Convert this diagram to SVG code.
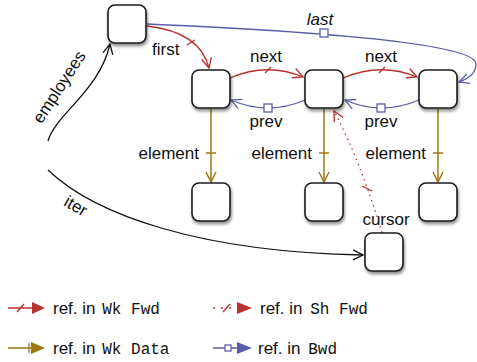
<svg xmlns="http://www.w3.org/2000/svg" width="477" height="362" viewBox="0 0 477 362">
<style>
.box{fill:#fff;stroke:#1a1a1a;stroke-width:1.6;filter:url(#sh)}
.t{font-family:"Liberation Sans",Arial,sans-serif;font-size:17px;fill:#111}
.m{font-family:"Liberation Mono","Courier New",monospace;font-size:16px}
.red{fill:none;stroke:#b8312f;stroke-width:1.3}
.blue{fill:none;stroke:#5a5ea8;stroke-width:1.3}
.gold{fill:none;stroke:#9c7812;stroke-width:1.5}
.blk{fill:none;stroke:#111;stroke-width:1.3}
</style>
<defs>
<filter id="sh" x="-30%" y="-30%" width="170%" height="170%">
<feDropShadow dx="1" dy="2.5" stdDeviation="1.5" flood-color="#000" flood-opacity="0.45"/>
</filter>
<marker id="ar" viewBox="-1 -6 12 12" markerWidth="12" markerHeight="12" refX="10" refY="0" orient="auto" markerUnits="userSpaceOnUse"><path d="M0,-5 L10,0 L0,5" fill="none" stroke="#b8312f" stroke-width="1.3"/></marker>
<marker id="ab" viewBox="-1 -6 12 12" markerWidth="12" markerHeight="12" refX="10" refY="0" orient="auto" markerUnits="userSpaceOnUse"><path d="M0,-5 L10,0 L0,5" fill="none" stroke="#5a5ea8" stroke-width="1.3"/></marker>
<marker id="ag" viewBox="-1 -6 12 12" markerWidth="12" markerHeight="12" refX="10" refY="0" orient="auto" markerUnits="userSpaceOnUse"><path d="M0,-5 L10,0 L0,5" fill="none" stroke="#9c7812" stroke-width="1.5"/></marker>
<marker id="ak" viewBox="-1 -6 12 12" markerWidth="12" markerHeight="12" refX="10" refY="0" orient="auto" markerUnits="userSpaceOnUse"><path d="M0,-5 L10,0 L0,5" fill="none" stroke="#111" stroke-width="1.3"/></marker>
</defs>

<g id="connectors">
  <!-- employees -->
  <path class="blk" d="M48,141 C55,115 100,90 110,44" marker-end="url(#ak)"/>
  <text class="t" transform="translate(64,90) rotate(-57)" text-anchor="middle">employees</text>
  <!-- iter -->
  <path class="blk" d="M48,170 C95,215 200,252 363,255" marker-end="url(#ak)"/>
  <text class="t" transform="translate(73,211) rotate(30)" text-anchor="middle">iter</text>
  <!-- first -->
  <path class="red" d="M147,26 Q200,32 209,68" marker-end="url(#ar)"/>
  <line class="red" x1="187" y1="45" x2="195" y2="40"/>
  <text class="t" x="152" y="55">first</text>
  <!-- last -->
  <path class="blue" d="M147,24 C330,32 476,44 476,64 Q476,76 459,82" marker-end="url(#ab)"/>
  <rect x="320" y="29" width="8" height="8" fill="#fff" stroke="#5a5ea8" stroke-width="1.3"/>
  <text class="t" x="320" y="25" text-anchor="middle" font-style="italic">last</text>
  <!-- next 1 -->
  <path class="red" d="M230,78 Q267,62 303,77" marker-end="url(#ar)"/>
  <line class="red" x1="265" y1="73" x2="271" y2="67"/>
  <text class="t" x="266" y="62" text-anchor="middle">next</text>
  <!-- next 2 -->
  <path class="red" d="M343,78 Q381,62 417,77" marker-end="url(#ar)"/>
  <line class="red" x1="379" y1="73" x2="385" y2="67"/>
  <text class="t" x="381" y="62" text-anchor="middle">next</text>
  <!-- prev 1 -->
  <path class="blue" d="M305,100 Q268,116 231,100" marker-end="url(#ab)"/>
  <rect x="264" y="104" width="8" height="8" fill="#fff" stroke="#5a5ea8" stroke-width="1.3"/>
  <text class="t" x="266" y="127" text-anchor="middle">prev</text>
  <!-- prev 2 -->
  <path class="blue" d="M419,100 Q381,116 345,100" marker-end="url(#ab)"/>
  <rect x="377" y="104" width="8" height="8" fill="#fff" stroke="#5a5ea8" stroke-width="1.3"/>
  <text class="t" x="381" y="127" text-anchor="middle">prev</text>
  <!-- element -->
  <path class="gold" d="M211,109 L211,182" marker-end="url(#ag)"/>
  <line class="gold" x1="206" y1="153" x2="216" y2="153"/>
  <text class="t" x="199" y="159" text-anchor="end">element</text>
  <path class="gold" d="M324,109 L324,182" marker-end="url(#ag)"/>
  <line class="gold" x1="319" y1="153" x2="329" y2="153"/>
  <text class="t" x="312" y="159" text-anchor="end">element</text>
  <path class="gold" d="M438,109 L438,182" marker-end="url(#ag)"/>
  <line class="gold" x1="433" y1="153" x2="443" y2="153"/>
  <text class="t" x="426" y="159" text-anchor="end">element</text>
  <!-- cursor -->
  <path class="red" d="M382,233 Q360,160 334,111" stroke-dasharray="1.5 4" marker-end="url(#ar)"/>
  <line class="red" x1="362" y1="186" x2="372" y2="191"/>
  <text class="t" x="386" y="225" text-anchor="middle">cursor</text>
</g>

<g id="n-top"><rect class="box" x="108" y="5" width="38" height="38" rx="7"/></g>
<g id="n-a"><rect class="box" x="192" y="70" width="38" height="38" rx="7"/></g>
<g id="n-b"><rect class="box" x="305" y="70" width="38" height="38" rx="7"/></g>
<g id="n-c"><rect class="box" x="419" y="70" width="38" height="38" rx="7"/></g>
<g id="n-a2"><rect class="box" x="192" y="183" width="38" height="38" rx="7"/></g>
<g id="n-b2"><rect class="box" x="305" y="183" width="38" height="38" rx="7"/></g>
<g id="n-c2"><rect class="box" x="419" y="183" width="38" height="38" rx="7"/></g>
<g id="n-cursor"><rect class="box" x="365" y="233" width="38" height="38" rx="7"/></g>

<g id="legend">
  <line x1="8" y1="308" x2="33" y2="308" stroke="#b8312f" stroke-width="1.5"/>
  <line x1="17" y1="312" x2="24" y2="304" stroke="#b8312f" stroke-width="1.3"/>
  <path d="M32,302 L45,308 L32,314 Z" fill="#b8312f"/>
  <text class="t" x="53" y="314">ref. in <tspan class="m" dx="2">Wk Fwd</tspan></text>

  <line x1="8" y1="348" x2="33" y2="348" stroke="#9c7812" stroke-width="1.5"/>
  <line x1="29" y1="343" x2="29" y2="353" stroke="#9c7812" stroke-width="1.3"/>
  <path d="M31,342 L45,348 L31,354 Z" fill="#9c7812"/>
  <text class="t" x="53" y="354">ref. in <tspan class="m" dx="2">Wk Data</tspan></text>

  <line x1="213" y1="308" x2="238" y2="308" stroke="#b8312f" stroke-width="1.5" stroke-dasharray="2 6"/>
  <line x1="223" y1="312" x2="230" y2="304" stroke="#b8312f" stroke-width="1.3"/>
  <path d="M237,302 L252,308 L237,314 Z" fill="#b8312f"/>
  <text class="t" x="260" y="314">ref. in <tspan class="m" dx="3">Sh Fwd</tspan></text>

  <line x1="213" y1="348" x2="238" y2="348" stroke="#5a5ea8" stroke-width="1.5"/>
  <rect x="225" y="345" width="6" height="6" fill="#fff" stroke="#5a5ea8" stroke-width="1.3"/>
  <path d="M237,342 L252,348 L237,354 Z" fill="#5a5ea8"/>
  <text class="t" x="258" y="354">ref. in <tspan class="m" dx="3">Bwd</tspan></text>
</g>
</svg>
